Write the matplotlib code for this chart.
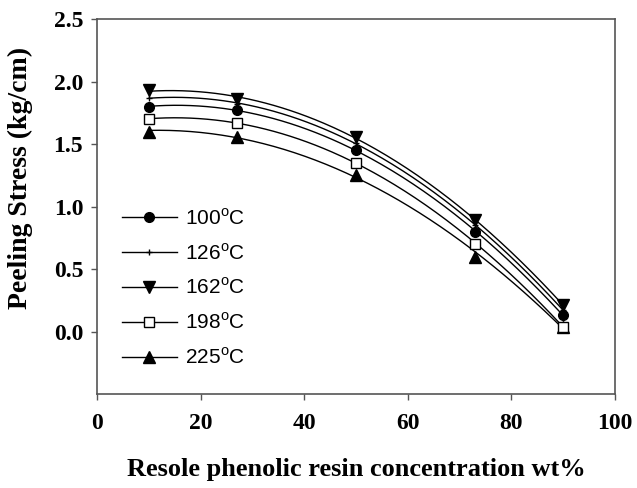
import numpy as np
import matplotlib
matplotlib.use("Agg")
import matplotlib.pyplot as plt

# resin concentration (wt%)
conc = [10, 27, 50, 73, 90]

# peeling stress (kg/cm) for each curing temperature
s100 = [1.80, 1.77, 1.45, 0.80, 0.13]
s126 = [1.87, 1.82, 1.51, 0.85, 0.17]
s162 = [1.93, 1.86, 1.56, 0.89, 0.21]
s198 = [1.70, 1.67, 1.35, 0.70, 0.04]
s225 = [1.60, 1.56, 1.25, 0.60, 0.04]

labels = ["100$^{\\mathregular{o}}$C", "126$^{\\mathregular{o}}$C", "162$^{\\mathregular{o}}$C",
          "198$^{\\mathregular{o}}$C", "225$^{\\mathregular{o}}$C"]
series = [s100, s126, s162, s198, s225]
styles = [dict(marker="o", ms=7, mfc="black"),
          dict(marker="+", ms=4, mfc="black"),
          dict(marker="v", ms=8, mfc="black"),
          dict(marker="s", ms=7, mfc="white"),
          dict(marker="^", ms=8, mfc="black")]
zorders = [4, 4, 4, 5, 3]

fig = plt.figure(figsize=(6.37, 4.88), dpi=100)
ax = fig.add_axes([0.1523, 0.1926, 0.8132, 0.7684])

xs = np.linspace(min(conc), max(conc), 200)
for y, lab, st, z in zip(series, labels, styles, zorders):
    coef = np.polyfit(conc, y, 2)
    ax.plot(xs, np.polyval(coef, xs), color="black", lw=1)
    ax.plot(conc, y, ls="none", mec="black", mew=1, zorder=z, **st)
    # legend proxy: line with marker
    ax.plot([], [], color="black", lw=1, mec="black", label=lab, **st)

ax.set_xlim(0, 100)
ax.set_ylim(-0.5, 2.5)
ax.set_xticks(np.arange(0, 101, 20))
ax.set_yticks(np.arange(0, 2.51, 0.5))
ax.yaxis.set_major_formatter(matplotlib.ticker.FormatStrFormatter("%.1f"))

for sp in ax.spines.values():
    sp.set_color("#555555")
    sp.set_linewidth(1.2)
ax.tick_params(direction="out", length=4, color="#555555", width=1)
ax.tick_params(axis="y", pad=6)
ax.tick_params(axis="x", pad=10)
for t in ax.get_xticklabels() + ax.get_yticklabels():
    t.set_fontfamily("Liberation Serif")
    t.set_fontweight("bold")
    t.set_fontsize(17)

ax.set_xlabel("Resole phenolic resin concentration wt%", fontfamily="Liberation Serif",
              fontweight="bold", fontsize=19, labelpad=17)
ax.set_ylabel("Peeling Stress (kg/cm)", fontfamily="Liberation Serif",
              fontweight="bold", fontsize=20, va="center")
ax.yaxis.set_label_coords(-0.148, 0.576)

leg = ax.legend(loc="upper left", bbox_to_anchor=(0.048, 0.497), frameon=False,
                prop={"family": "Liberation Sans", "size": 15},
                handlelength=2.65, labelspacing=0.68, handletextpad=0.4,
                borderpad=0, borderaxespad=0)

fig.savefig("out.png", dpi=100)
